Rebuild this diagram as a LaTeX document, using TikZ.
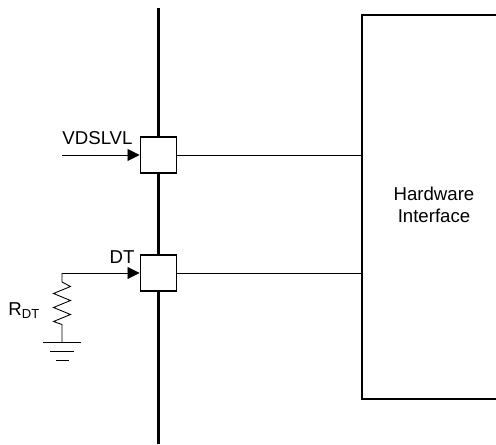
\documentclass[tikz,border=0pt]{standalone}
\usepackage{fontspec}
\setmainfont{Liberation Sans}
\usepackage{tikz}
\usetikzlibrary{arrows.meta,positioning,calc}

\begin{document}
\begin{tikzpicture}[
    pin/.style={rectangle, draw, line width=1.1pt, fill=white, minimum size=0.72cm, inner sep=0pt},
    bus/.style={line width=1.7pt},
    signal/.style={line width=0.5pt},
    input/.style={signal, -{Triangle[length=0.24cm, width=0.24cm]}},
    label/.style={font=\fontsize{10.6}{12.6}\selectfont, inner sep=0pt}
]
    \useasboundingbox (0,0) rectangle (9.92,8.88);

    % Bus
    \coordinate (bustop) at (3.17,8.72);
    \coordinate (busbot) at (3.17,0);
    \draw[bus] (bustop) -- (busbot);

    % Pins
    \node[pin] (vdslvl) at (3.17,5.78) {};
    \node[pin] (dt) at (3.17,3.42) {};

    % Hardware block
    \coordinate (hwtop) at (9.92,8.58);
    \coordinate (hwbot) at (9.92,0.90);
    \coordinate (hwa) at (7.24,5.78);
    \coordinate (hwb) at (7.24,3.42);
    \draw[line width=1.5pt] (hwtop) -| (7.24,0.90) -- (hwbot);
    \node[label, align=center] (hw) at (8.68,4.78) {Hardware\\Interface};
    \draw[signal] (vdslvl) -- (hwa);
    \draw[signal] (dt) -- (hwb);

    % Inputs
    \coordinate (vin) at (1.24,5.78);
    \coordinate (rtop) at (1.24,3.42);
    \draw[input] (vin) -- (vdslvl);
    \draw[input] (rtop) -- (dt);
    \node[label] (vlabel) at (1.95,6.12) {VDSLVL};
    \node[label] (dlabel) at (2.44,3.74) {DT};

    % Resistor
    \coordinate (gnd) at (1.24,2.04);
    \draw[signal] (rtop) -- ++(0,-0.18) -- ++(0.17,-0.09) -- ++(-0.34,-0.14) -- ++(0.34,-0.14)
        -- ++(-0.34,-0.14) -- ++(0.34,-0.14) -- ++(-0.34,-0.14) -- ++(0.17,-0.06) -- (gnd);
    \node[label, anchor=east] (rlabel) at (0.81,2.66) {R\textsubscript{DT}};

    % Ground
    \draw[signal] (0.86,2.04) -- (1.62,2.04);
    \draw[signal] (1.00,1.86) -- (1.48,1.86);
    \draw[signal] (1.12,1.68) -- (1.38,1.68);
\end{tikzpicture}
\end{document}
